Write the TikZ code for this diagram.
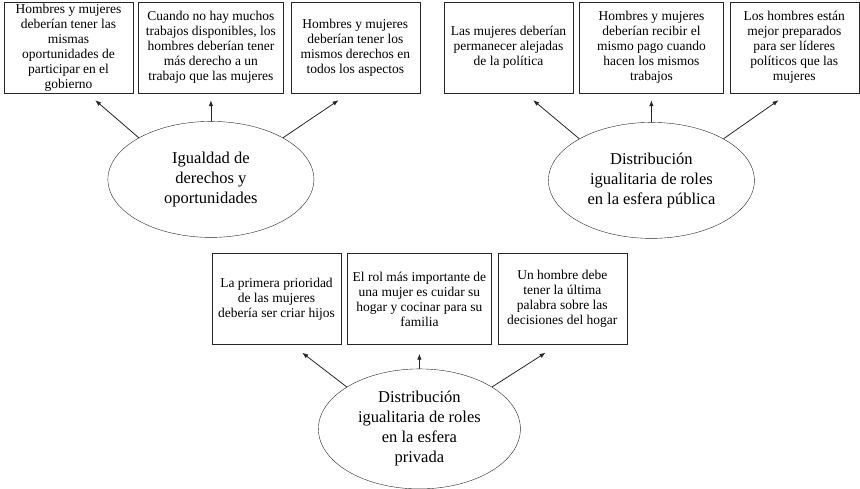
\documentclass[tikz,border=0pt]{standalone}
\usepackage{fontspec}
\setmainfont{Liberation Serif}
\usepackage{tikz}
\usetikzlibrary{shapes.geometric, arrows.meta, positioning}

\begin{document}
\begin{tikzpicture}[
    x=1pt, y=1pt,
    node distance=6pt,
    box/.style={rectangle, draw=black!85, minimum width=129pt, minimum height=91pt, align=center, inner sep=1pt, font=\fontsize{13.5}{15}\selectfont},
    widebox/.style={box, minimum width=145pt},
    group/.style={ellipse, draw=black!85, minimum width=206pt, minimum height=116pt, inner sep=0pt, align=center, font=\fontsize{16.5}{20}\selectfont},
    arrow/.style={-{Latex[length=6pt,width=4.5pt]}, line width=0.8pt, draw=black!85}
]
    \useasboundingbox (0,0) rectangle (860,-488);

    % Igualdad de derechos y oportunidades
    \node[box] (b1) at (68.5,-47.5) {Hombres y mujeres\\deberían tener las\\mismas\\oportunidades de\\participar en el\\gobierno};
    \node[widebox, right=5pt of b1] (b2) {Cuando no hay muchos\\trabajos disponibles, los\\hombres deberían tener\\más derecho a un\\trabajo que las mujeres};
    \node[box, right=7pt of b2] (b3) {Hombres y mujeres\\deberían tener los\\mismos derechos en\\todos los aspectos};
    \node[group, below=28pt of b2] (e1) {Igualdad de\\derechos y\\oportunidades};

    % Distribucion publica
    \node[box] (b4) at (508.5,-47.5) {Las mujeres deberían\\permanecer alejadas\\de la política};
    \node[widebox, right=6pt of b4, minimum width=144pt] (b5) {Hombres y mujeres\\deberían recibir el\\mismo pago cuando\\hacen los mismos\\trabajos};
    \node[box, right=6pt of b5] (b6) {Los hombres están\\mejor preparados\\para ser líderes\\políticos que las\\mujeres};
    \node[group, below=29pt of b5] (e2) {Distribución\\igualitaria de roles\\en la esfera pública};

    % Distribucion privada
    \node[box] (b7) at (276.5,-299) {La primera prioridad\\de las mujeres\\debería ser criar hijos};
    \node[widebox, right=6pt of b7, minimum width=144pt] (b8) {El rol más importante de\\una mujer es cuidar su\\hogar y cocinar para su\\familia};
    \node[box, right=6pt of b8] (b9) {Un hombre debe\\tener la última\\palabra sobre las\\decisiones del hogar};
    \node[group, below=24pt of b8, minimum width=202pt, minimum height=120pt] (e3) {Distribución\\igualitaria de roles\\en la esfera\\privada};

    % Connect components
    \draw[arrow] (e1.150) -- ([xshift=-38pt,yshift=-7pt]b1.south east);
    \draw[arrow] (e1.north) -- ([yshift=-7pt]b2.south);
    \draw[arrow] (e1.30) -- ([xshift=48pt,yshift=-7pt]b3.south west);

    \draw[arrow] (e2.150) -- ([xshift=-40pt,yshift=-7pt]b4.south east);
    \draw[arrow] (e2.north) -- ([yshift=-7pt]b5.south);
    \draw[arrow] (e2.30) -- ([xshift=49pt,yshift=-7pt]b6.south west);

    \draw[arrow] (e3.150) -- ([xshift=-39pt,yshift=-8pt]b7.south east);
    \draw[arrow] (e3.north) -- ([yshift=-9pt]b8.south);
    \draw[arrow] (e3.30) -- ([xshift=48pt,yshift=-8pt]b9.south west);

\end{tikzpicture}
\end{document}
